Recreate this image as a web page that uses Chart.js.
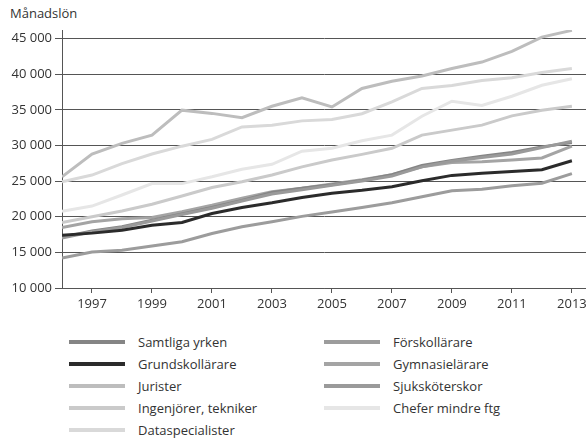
<!DOCTYPE html>
<html>
<head>
<meta charset="utf-8">
<script src="https://cdn.jsdelivr.net/npm/chart.js@4.4.1/dist/chart.umd.min.js"></script>
<style>
  body { margin: 0; background: #fff; }
  #wrap { position: relative; width: 586px; height: 440px; font-family: 'Open Sans', sans-serif; color: #333; }
  #title { position: absolute; left: 10px; top: 4px; font-size: 13px; }
  #box { position: absolute; left: 0; top: 0; width: 586px; height: 310px; }
  #legend { position: absolute; left: 69px; top: 331px; display: grid; grid-template-columns: 255px 220px; font-size: 13px; }
  .item { display: flex; align-items: center; height: 22px; }
  .sw { width: 56px; height: 4px; margin-right: 13px; }
</style>
</head>
<body>
<div id="wrap">
  <div id="title">Månadslön</div>
  <div id="box"><canvas id="chart"></canvas></div>
  <div id="legend"></div>
</div>
<script>
// --- data ---
const years = [1996, 1997, 1998, 1999, 2000, 2001, 2002, 2003, 2004, 2005, 2006, 2007, 2008, 2009, 2010, 2011, 2012, 2013];
const xTicks = [1997, 1999, 2001, 2003, 2005, 2007, 2009, 2011, 2013];
const yTicks = [10000, 15000, 20000, 25000, 30000, 35000, 40000, 45000];

const samtliga = [17100, 18000, 18600, 19500, 20400, 21300, 22300, 23400, 24000, 24500, 25100, 25900, 27200, 27900, 28500, 29000, 29800, 30400];
const forskol = [14200, 15050, 15300, 15900, 16500, 17650, 18600, 19300, 20050, 20650, 21300, 21950, 22800, 23650, 23850, 24350, 24700, 26050];
const grundskol = [17400, 17700, 18100, 18800, 19200, 20450, 21300, 21950, 22700, 23300, 23700, 24200, 25050, 25800, 26100, 26350, 26600, 27850];
const gymnasie = [18500, 19300, 19700, 19900, 20700, 21600, 22600, 23500, 24000, 24600, 25200, 25900, 27000, 27600, 27700, 27950, 28250, 29900];
const jurister = [25600, 28800, 30300, 31450, 34950, 34500, 33900, 35500, 36700, 35400, 38000, 39000, 39750, 40800, 41700, 43200, 45200, 46150];
const sjukskot = [17000, 17900, 18500, 19400, 20300, 21200, 22200, 23200, 23800, 24400, 25000, 25700, 27000, 27800, 28300, 28800, 29700, 30600];
const ingenjorer = [19200, 20000, 20800, 21750, 22900, 24100, 24900, 25850, 27000, 27950, 28750, 29600, 31450, 32150, 32850, 34150, 34950, 35500];
const chefer = [20750, 21500, 23050, 24650, 24650, 25600, 26650, 27350, 29200, 29600, 30650, 31450, 34100, 36200, 35600, 36900, 38450, 39350];
const dataspec = [24900, 25850, 27450, 28800, 29900, 30850, 32600, 32850, 33450, 33650, 34450, 36100, 38000, 38400, 39100, 39500, 40250, 40800];

const FONT = "'Open Sans', sans-serif";

function series(label, values, color, order) {
    return {
        label: label,
        data: years.map((yr, i) => ({ x: yr, y: values[i] })),
        borderColor: color,
        backgroundColor: color,
        borderWidth: 3,
        pointRadius: 0,
        tension: 0,
        fill: false,
        order: order
    };
}

// legend order (row by row, two columns)
const datasets = [
    series('Samtliga yrken', samtliga, '#858585', 2),
    series('Förskollärare', forskol, '#9c9c9c', 2),
    series('Grundskollärare', grundskol, '#2b2b2b', 0),
    series('Gymnasielärare', gymnasie, '#a4a4a4', 2),
    series('Jurister', jurister, '#bdbdbd', 3),
    series('Sjuksköterskor', sjukskot, '#9a9a9a', 1),
    series('Ingenjörer, tekniker', ingenjorer, '#cacaca', 3),
    series('Chefer mindre ftg', chefer, '#e6e6e6', 4),
    series('Dataspecialister', dataspec, '#d9d9d9', 3)
];

const chart = new Chart(document.getElementById('chart'), {
    type: 'line',
    data: { datasets: datasets },
    options: {
        responsive: true,
        maintainAspectRatio: false,
        animation: false,
        layout: { padding: { top: 30, right: 0, left: 0, bottom: 0 } },
        plugins: { legend: { display: false }, tooltip: { enabled: false } },
        scales: {
            x: {
                type: 'linear',
                min: 1996,
                max: 2013.47,
                afterBuildTicks: s => { s.ticks = xTicks.map(v => ({ value: v })); },
                afterFit: s => { s.height = 22; s.paddingRight = 0; s.paddingLeft = 0; },
                ticks: {
                    color: '#333', padding: 3, maxRotation: 0, autoSkip: false,
                    font: { family: FONT, size: 13 },
                    callback: v => String(v)
                },
                grid: { drawOnChartArea: false, drawTicks: true, tickLength: 5, color: '#555' },
                border: { color: '#555', width: 1 }
            },
            y: {
                min: 10000,
                max: 46200,
                afterBuildTicks: s => { s.ticks = yTicks.map(v => ({ value: v })); },
                afterFit: s => { s.width = 62; },
                ticks: {
                    color: '#333', padding: 3,
                    font: { family: FONT, size: 13 },
                    callback: v => Math.round(v / 1000) + ' 000'
                },
                grid: { color: '#555', lineWidth: 1, tickLength: 7 },
                border: { color: '#555', width: 1 }
            }
        }
    }
});

// HTML legend, two columns
const legend = document.getElementById('legend');
chart.data.datasets.forEach(ds => {
    const item = document.createElement('div');
    item.className = 'item';
    const sw = document.createElement('span');
    sw.className = 'sw';
    sw.style.background = ds.borderColor;
    const txt = document.createElement('span');
    txt.textContent = ds.label;
    item.appendChild(sw);
    item.appendChild(txt);
    legend.appendChild(item);
});
</script>
</body>
</html>
